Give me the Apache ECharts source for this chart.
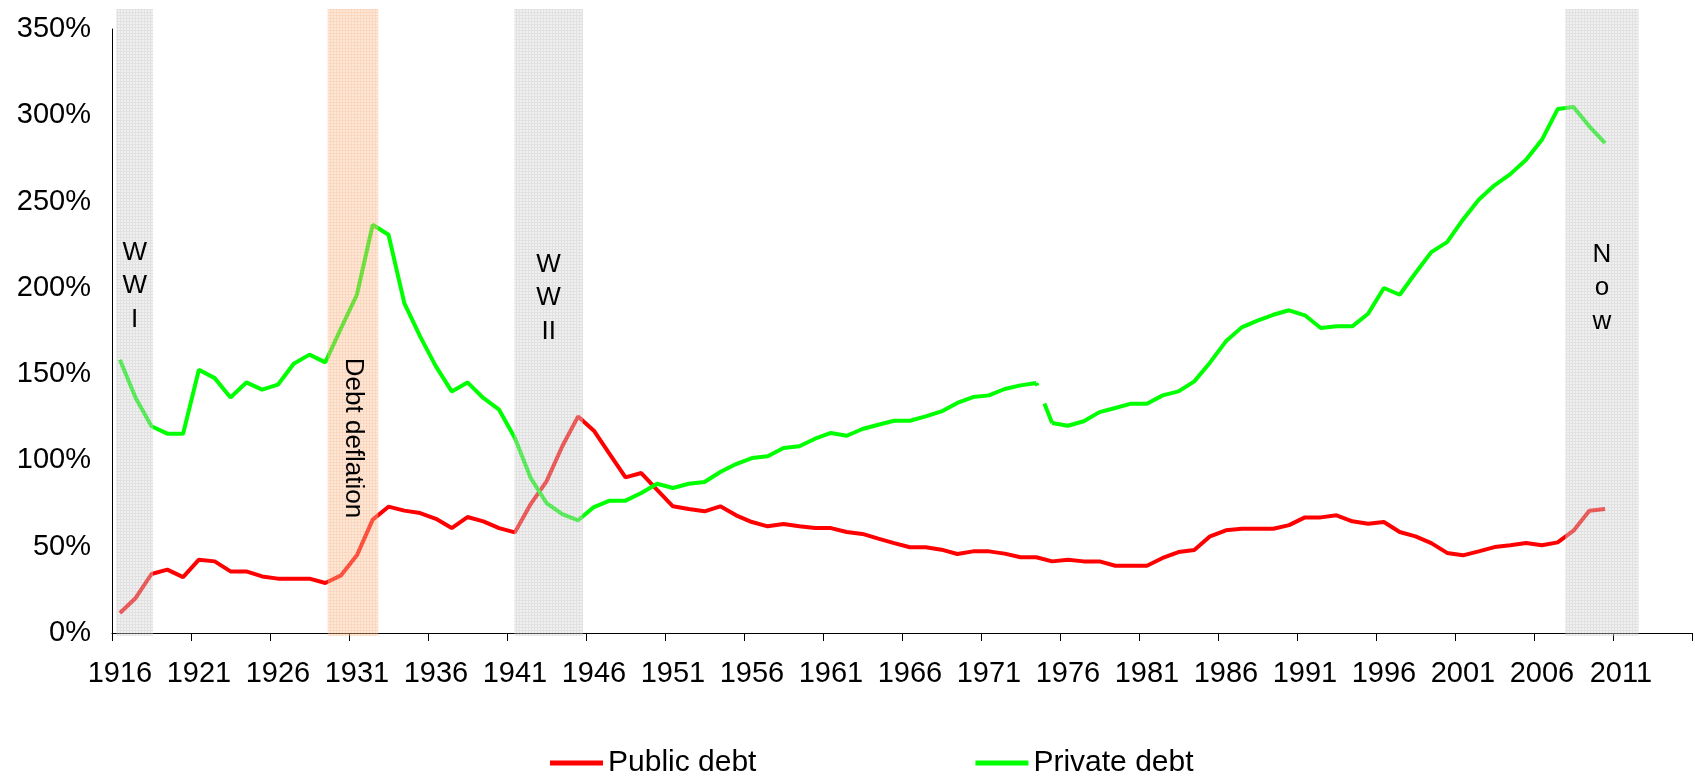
<!DOCTYPE html>
<html><head><meta charset="utf-8">
<script src="https://cdn.jsdelivr.net/npm/echarts@6/dist/echarts.min.js"></script>
<style>html,body{margin:0;padding:0;background:#fff}#c{width:1695px;height:777px}</style>
</head><body><div id="c"></div>
<script>
const years = [1916,1917,1918,1919,1920,1921,1922,1923,1924,1925,1926,1927,1928,1929,1930,1931,1932,1933,1934,1935,
1936,1937,1938,1939,1940,1941,1942,1943,1944,1945,1946,1947,1948,1949,1950,1951,1952,1953,1954,1955,
1956,1957,1958,1959,1960,1961,1962,1963,1964,1965,1966,1967,1968,1969,1970,1971,1972,1973,1974,1975,
1976,1977,1978,1979,1980,1981,1982,1983,1984,1985,1986,1987,1988,1989,1990,1991,1992,1993,1994,1995,
1996,1997,1998,1999,2000,2001,2002,2003,2004,2005,2006,2007,2008,2009,2010,2011,2012,2013,2014,2015];

const publicDebt = [11.6,20.3,34.2,36.7,32.4,42.5,41.5,35.7,35.7,32.8,
31.5,31.5,31.5,29.0,33.4,45.0,65.7,73.2,70.9,69.5,
66.2,60.8,67.2,64.7,60.8,58.3,74.7,87.9,108.2,125.5,
117.2,103.7,90.2,92.7,83.0,73.4,71.8,70.5,73.4,68.2,
64.3,61.8,63.2,61.8,60.8,60.8,58.5,57.4,54.7,52.1,
49.7,49.7,48.3,45.8,47.3,47.3,46.0,43.9,43.9,41.5,
42.5,41.5,41.5,39.0,39.0,39.0,43.5,46.9,48.1,56.0,
59.5,60.4,60.4,60.4,62.5,67.0,67.0,68.2,64.7,63.3,
64.3,58.5,56.0,52.1,46.4,45.0,47.3,49.8,50.8,52.1,
50.8,52.5,59.3,70.9,71.8];

const privateDebt = [158.4,136.2,119.8,115.5,115.5,152.6,147.7,136.5,145.2,141.0,
143.9,156.0,161.3,156.8,176.7,196.0,236.6,230.8,191.2,171.9,
154.5,140.0,145.2,136.2,129.4,113.0,89.8,75.3,68.9,65.3,
73.0,76.7,76.7,81.1,86.5,84.0,86.5,87.5,93.3,97.9,
101.4,102.4,107.2,108.2,112.6,115.9,114.3,118.2,120.7,123.0,
123.0,125.5,128.4,133.3,136.7,137.7,141.4,143.5,144.9,121.7,
120.1,122.7,128.0,130.4,132.9,132.9,137.7,140.0,145.8,156.8,
169.0,177.1,181.0,184.4,187.0,184.1,176.7,177.7,177.7,185.0,
199.9,196.0,208.6,220.7,226.5,239.5,251.1,259.4,265.9,274.2,
285.8,303.6,304.8,293.6,283.9];

// year after which the private debt line is broken
const gapYear = 1974;

// shaded periods (in years, fractional positions between category centres)
const bandStart = [1915.77, 1929.15, 1940.96, 2007.48];
const bandEnd   = [1918.10, 1932.35, 1945.31, 2012.12];
const bandLabels = ['W\nW\nI', 'Debt deflation', 'W\nW\nII', 'N\no\nw'];
const bandLabelValue = [201, 113, 194, 200];
const bandKind = ['grey', 'orange', 'grey', 'grey'];
const BAND_TOP = 361.6, BAND_BOTTOM = -1.7;

const FONT = '"Liberation Sans", Arial, Helvetica, sans-serif';

function makePattern(bg, line) {
  const c = document.createElement('canvas');
  c.width = 3; c.height = 3;
  const ctx = c.getContext('2d');
  ctx.fillStyle = bg;
  ctx.fillRect(0, 0, 3, 3);
  ctx.fillStyle = line;
  ctx.fillRect(0, 0, 3, 1);
  ctx.fillRect(0, 1, 1, 2);
  return c;
}
const patterns = {
  grey: makePattern('#dedede', '#bdbdbd'),
  orange: makePattern('#fbc9a6', '#f5a673')
};

const gi = years.indexOf(gapYear);
const green1 = privateDebt.map((v, i) => i <= gi ? v : null);
const green2 = privateDebt.map((v, i) => (i === gi || i === gi + 1) ? v : null);
const green3 = privateDebt.map((v, i) => i >= gi + 1 ? v : null);

const chart = echarts.init(document.getElementById('c'), null, { renderer: 'canvas' });
const lineBase = { type: 'line', symbol: 'none', showSymbol: false, connectNulls: false, z: 2, silent: true };

chart.setOption({
  animation: false,
  backgroundColor: '#fff',
  grid: { left: 112, right: 3, top: 29, bottom: 144, containLabel: false, outerBoundsMode: 'none' },
  legend: {
    data: ['Public debt', 'Private debt'],
    left: 545, top: 743,
    icon: 'rect',
    itemWidth: 53, itemHeight: 5, itemGap: 219,
    textStyle: { fontSize: 30, fontFamily: FONT, color: '#000' }
  },
  xAxis: {
    type: 'category', data: years, boundaryGap: true,
    axisLine: { show: true, lineStyle: { color: '#000', width: 1 } },
    axisTick: { show: true, interval: 4, length: 8, lineStyle: { color: '#000', width: 1 } },
    axisLabel: { interval: 4, margin: 26, fontSize: 29, fontFamily: FONT, color: '#000' },
    splitLine: { show: false }
  },
  yAxis: {
    type: 'value', min: 0, max: 350, interval: 50,
    axisLine: { show: true, lineStyle: { color: '#000', width: 1 } },
    axisTick: { show: false },
    splitLine: { show: false },
    axisLabel: { formatter: '{value}%', margin: 21, fontSize: 29, fontFamily: FONT, color: '#000', padding: [3, 0, 0, 0] }
  },
  series: [
    Object.assign({}, lineBase, { name: 'Public debt', data: publicDebt, lineStyle: { color: '#ff0000', width: 4 }, itemStyle: { color: '#ff0000' } }),
    Object.assign({}, lineBase, { name: 'Private debt', data: green1, lineStyle: { color: '#00ff00', width: 4 }, itemStyle: { color: '#00ff00' } }),
    Object.assign({}, lineBase, { name: 'Private debt', data: green2, lineStyle: { color: '#00ff00', width: 4, type: [3, 19, 26, 10] }, itemStyle: { color: '#00ff00' } }),
    Object.assign({}, lineBase, { name: 'Private debt', data: green3, lineStyle: { color: '#00ff00', width: 4 }, itemStyle: { color: '#00ff00' } }),
    {
      type: 'custom', name: 'bands', z: 5, silent: true, clip: false,
      data: bandStart.map((s, i) => [i, 0]),
      renderItem: function (params, api) {
        const k = params.dataIndex;
        const w = api.size([1, 0])[0];
        const x0 = api.coord([0, 0])[0];
        const xs = x0 + (bandStart[k] - years[0]) * w;
        const xe = x0 + (bandEnd[k] - years[0]) * w;
        const yt = api.coord([0, BAND_TOP])[1];
        const yb = api.coord([0, BAND_BOTTOM])[1];
        const cx = (xs + xe) / 2;
        const cy = api.coord([0, bandLabelValue[k]])[1];
        const rotated = bandLabels[k].indexOf('\n') < 0;
        return {
          type: 'group',
          children: [
            { type: 'rect', shape: { x: xs, y: yt, width: xe - xs, height: yb - yt },
              style: { fill: { image: patterns[bandKind[k]], repeat: 'repeat' }, opacity: 0.45 } },
            { type: 'text', x: cx, y: cy, rotation: rotated ? -Math.PI / 2 : 0,
              style: { text: bandLabels[k], x: 0, y: 0, fill: '#000', fontSize: 26, fontFamily: FONT,
                       align: 'center', verticalAlign: 'middle', lineHeight: 33.5 } }
          ]
        };
      }
    }
  ]
});
</script>
</body></html>
